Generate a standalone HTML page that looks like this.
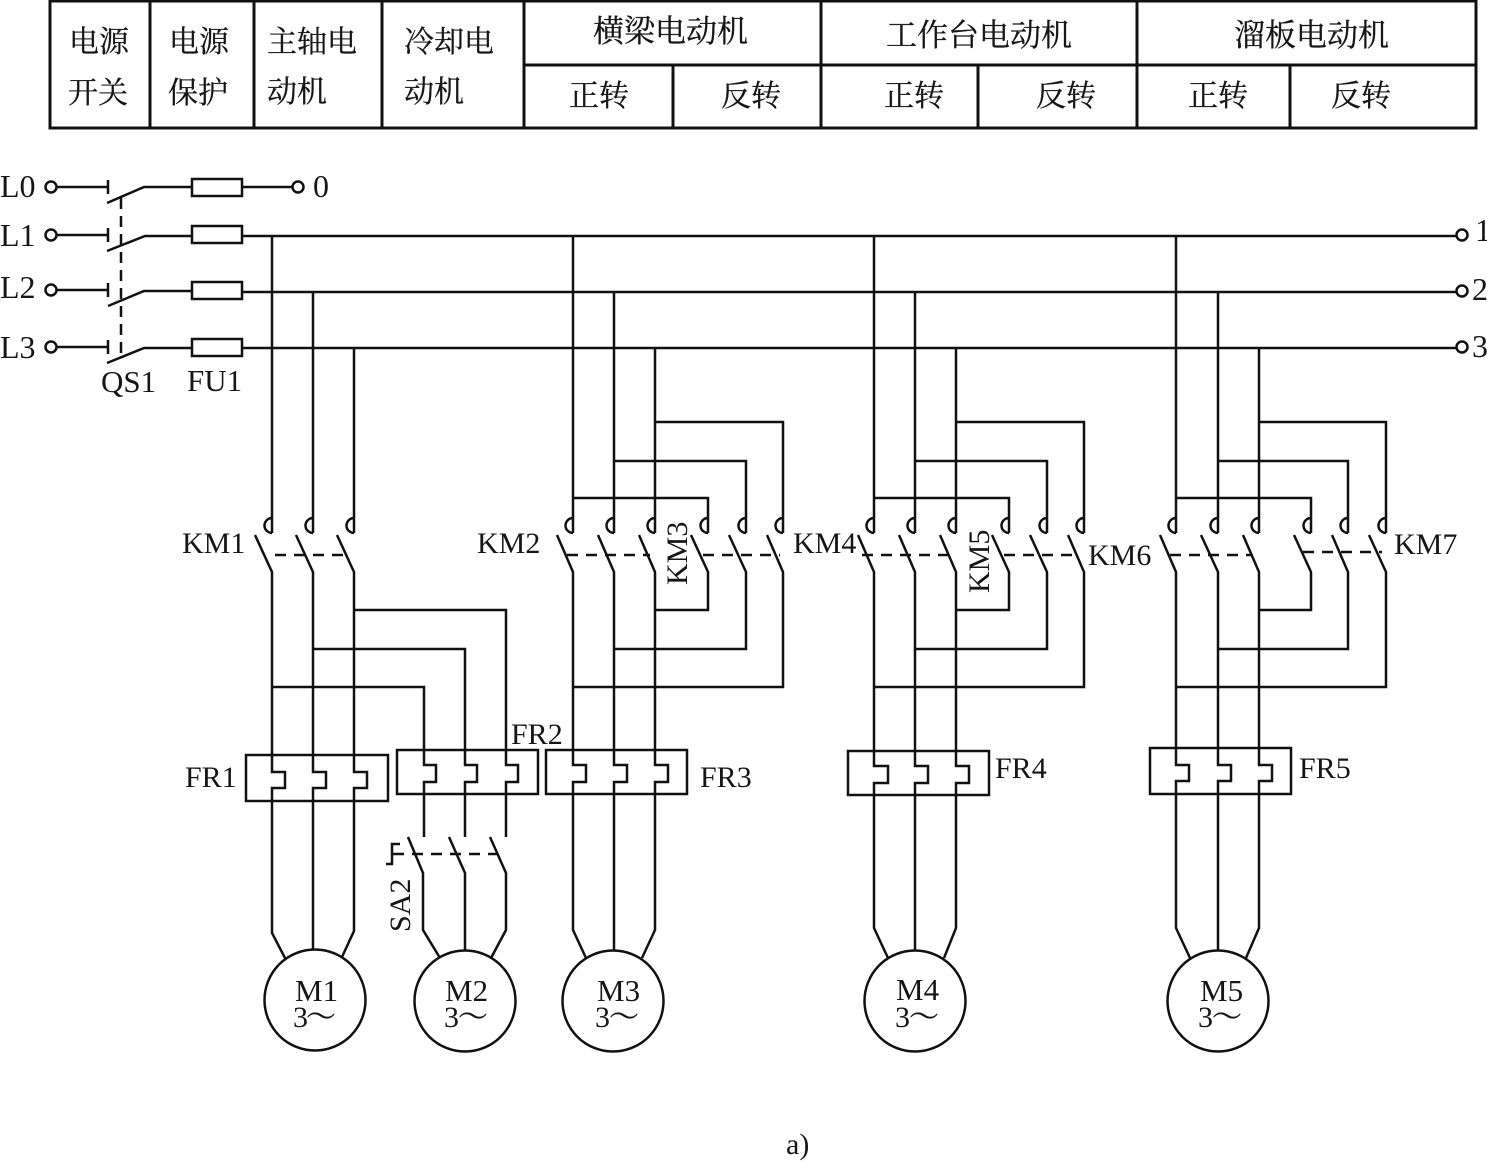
<!DOCTYPE html>
<html><head><meta charset="utf-8"><style>
html,body{margin:0;padding:0;background:#fff}
svg{display:block}
.t{font-family:"Liberation Serif",serif;font-size:30px;fill:#161616}
.b{font-size:32px}
.m{font-size:31px}
.c{font-family:"Liberation Serif","Noto Serif CJK SC",serif;font-size:30px;fill:#161616;stroke:#161616;stroke-width:.3px}
</style></head><body>
<svg xmlns="http://www.w3.org/2000/svg" width="1487" height="1161" viewBox="0 0 1487 1161">
<g fill="none" stroke="#111" stroke-width="3">
<path d="M50 1H1476V128H50ZM150 1V128M254 1V128M382 1V128M524 1V128M821 1V128M1137 1V128M524 65H1476M673 65V128M978 65V128M1290 65V128"/>
</g>
<g class="c">
<text class="c" x="69" y="52">电源</text><text class="c" x="68" y="103">开关</text>
<text class="c" x="169" y="52">电源</text><text class="c" x="168" y="103">保护</text>
<text class="c" x="267" y="52">主轴电</text><text class="c" x="267" y="102">动机</text>
<text class="c" x="404" y="52">冷却电</text><text class="c" x="404" y="102">动机</text>
<text class="c" x="593" y="42" style="font-size:31px">横梁电动机</text>
<text class="c" x="886" y="46" style="font-size:31px">工作台电动机</text>
<text class="c" x="1234" y="46" style="font-size:31px">溜板电动机</text>
<text class="c" x="569" y="106">正转</text><text class="c" x="721" y="106">反转</text>
<text class="c" x="884" y="106">正转</text><text class="c" x="1036" y="106">反转</text>
<text class="c" x="1188" y="106">正转</text><text class="c" x="1331" y="106">反转</text>
</g>
<g fill="none" stroke="#111" stroke-width="2.5">
<!-- supply -->
<circle cx="51" cy="187" r="5.5"/><circle cx="51" cy="235" r="5.5"/><circle cx="51" cy="290" r="5.5"/><circle cx="51" cy="347" r="5.5"/>
<circle cx="298" cy="187" r="5.5"/><circle cx="1462" cy="235" r="5.5"/><circle cx="1462" cy="291" r="5.5"/><circle cx="1462" cy="347" r="5.5"/>
<path d="M57 187H108M108 180V194M107 203L144 187H192M242 187H292"/>
<path d="M57 235H108M108 228V242M107 251L145 236H192M242 236H1456"/>
<path d="M57 290H108M108 283V297M108 306L144 291H192M242 292H1456"/>
<path d="M57 347H108M108 340V354M107 363L144 348H192M242 348H1456"/>
<rect x="192" y="179" width="50" height="17"/><rect x="192" y="226" width="50" height="17"/><rect x="192" y="282" width="50" height="17"/><rect x="192" y="339" width="50" height="17"/>
<path d="M121 198V360" stroke-dasharray="11 7"/>
<!-- group 1 -->
<path d="M272 236V533m0-15a7.5 7.5 0 0 0 0 15M255 535L272 572V772H285V788H272V933L285 958"/>
<path d="M313 292V533m0-15a7.5 7.5 0 0 0 0 15M296 535L313 572V772H326V788H313V950"/>
<path d="M354 349V533m0-15a7.5 7.5 0 0 0 0 15M337 535L354 572V772H367V788H354V931L342 957"/>
<path d="M272 687H424V765H436V782H424V837M313 649H465V765H477V782H465V837M354 610H506V765H518V782H506V837"/>
<path d="M408 837L423 873V930L440 958M449 837L465 873V950M490 837L506 873V930L491 958"/>
<path d="M275 555H350M393 854H498" stroke-dasharray="11 8"/>
<path d="M400 844H392V864H386"/>
<rect x="246" y="755" width="142" height="46"/><rect x="397" y="750" width="141" height="44"/>
<!-- group 2 -->
<path d="M573 236V533m0-15a7.5 7.5 0 0 0 0 15M557 535L573 572V765H586V782H573V930L586 958"/>
<path d="M614 292V533m0-15a7.5 7.5 0 0 0 0 15M598 535L614 572V765H627V782H614V950"/>
<path d="M655 349V533m0-15a7.5 7.5 0 0 0 0 15M639 535L655 572V765H668V782H655V930L642 958"/>
<path d="M573 498H708V533m0-15a7.5 7.5 0 0 0 0 15M691 535L708 572V610H655"/>
<path d="M614 461H746V533m0-15a7.5 7.5 0 0 0 0 15M729 535L746 572V649H614"/>
<path d="M655 422H783V533m0-15a7.5 7.5 0 0 0 0 15M767 535L783 572V687H573"/>
<path d="M567 555H650M703 555H780" stroke-dasharray="11 8"/>
<rect x="546" y="750" width="141" height="44"/>
<!-- group 3 -->
<path d="M874 236V533m0-15a7.5 7.5 0 0 0 0 15M858 535L874 572V766H888V783H874V928L888 958"/>
<path d="M915 292V533m0-15a7.5 7.5 0 0 0 0 15M899 535L915 572V766H928V783H915V950"/>
<path d="M956 349V533m0-15a7.5 7.5 0 0 0 0 15M940 535L956 572V766H969V783H956V928L944 958"/>
<path d="M874 498H1009V533m0-15a7.5 7.5 0 0 0 0 15M992 535L1009 572V610H956"/>
<path d="M915 461H1047V533m0-15a7.5 7.5 0 0 0 0 15M1030 535L1047 572V649H915"/>
<path d="M956 422H1084V533m0-15a7.5 7.5 0 0 0 0 15M1068 535L1084 572V687H874"/>
<path d="M862 555H950M1004 555H1080" stroke-dasharray="11 8"/>
<rect x="848" y="751" width="141" height="44"/>
<!-- group 4 -->
<path d="M1176 236V533m0-15a7.5 7.5 0 0 0 0 15M1160 535L1176 572V765H1189V781H1176V928L1190 958"/>
<path d="M1218 292V533m0-15a7.5 7.5 0 0 0 0 15M1201 535L1218 572V765H1231V781H1218V950"/>
<path d="M1259 349V533m0-15a7.5 7.5 0 0 0 0 15M1243 535L1259 572V765H1272V781H1259V928L1246 958"/>
<path d="M1176 498H1311V533m0-15a7.5 7.5 0 0 0 0 15M1294 535L1311 572V610H1259"/>
<path d="M1218 461H1348V533m0-15a7.5 7.5 0 0 0 0 15M1332 535L1348 572V649H1218"/>
<path d="M1259 422H1386V533m0-15a7.5 7.5 0 0 0 0 15M1369 535L1386 572V687H1176"/>
<path d="M1170 555H1252M1303 552H1382" stroke-dasharray="11 8"/>
<rect x="1150" y="748" width="141" height="46"/>
<!-- motors -->
<circle cx="315" cy="1000" r="50.5"/><circle cx="465" cy="1001" r="50.5"/><circle cx="613" cy="1001" r="50.5"/><circle cx="915" cy="1001" r="50.5"/><circle cx="1218" cy="1001" r="50.5"/>
</g>
<g class="t">
<text class="t b" x="0" y="197">L0</text><text class="t b" x="0" y="246">L1</text><text class="t b" x="0" y="298">L2</text><text class="t b" x="0" y="358">L3</text>
<text class="t b" x="313" y="197">0</text><text class="t b" x="1475" y="241">1</text><text class="t b" x="1472" y="300">2</text><text class="t b" x="1472" y="357">3</text>
<text class="t m" x="101" y="392">QS1</text><text class="t m" x="187" y="391">FU1</text>
<text class="t" x="182" y="553">KM1</text><text class="t" x="477" y="553">KM2</text><text class="t" x="793" y="553">KM4</text><text class="t" x="1088" y="565">KM6</text><text class="t" x="1394" y="554">KM7</text>
<text class="t" transform="translate(687 585) rotate(-90)">KM3</text>
<text class="t" transform="translate(989 593) rotate(-90)">KM5</text>
<text class="t" transform="translate(410 932) rotate(-90)">SA2</text>
<text class="t" x="185" y="787">FR1</text><text class="t" x="511" y="744">FR2</text><text class="t" x="700" y="787">FR3</text><text class="t" x="995" y="778">FR4</text><text class="t" x="1299" y="778">FR5</text>
<text class="t m" x="295" y="1001">M1</text><text class="t m" x="445" y="1001">M2</text><text class="t m" x="597" y="1001">M3</text><text class="t m" x="896" y="1000">M4</text><text class="t m" x="1200" y="1001">M5</text>
<text class="t" x="293" y="1027">3</text><text class="t" x="444" y="1027">3</text><text class="t" x="595" y="1027">3</text><text class="t" x="895" y="1027">3</text><text class="t" x="1198" y="1027">3</text>
<text class="c" x="306" y="1027">～</text><text class="c" x="458" y="1027">～</text><text class="c" x="609" y="1027">～</text><text class="c" x="909" y="1027">～</text><text class="c" x="1212" y="1027">～</text>
<text class="t" x="786" y="1154">a)</text>
</g>
</svg>
</body></html>
